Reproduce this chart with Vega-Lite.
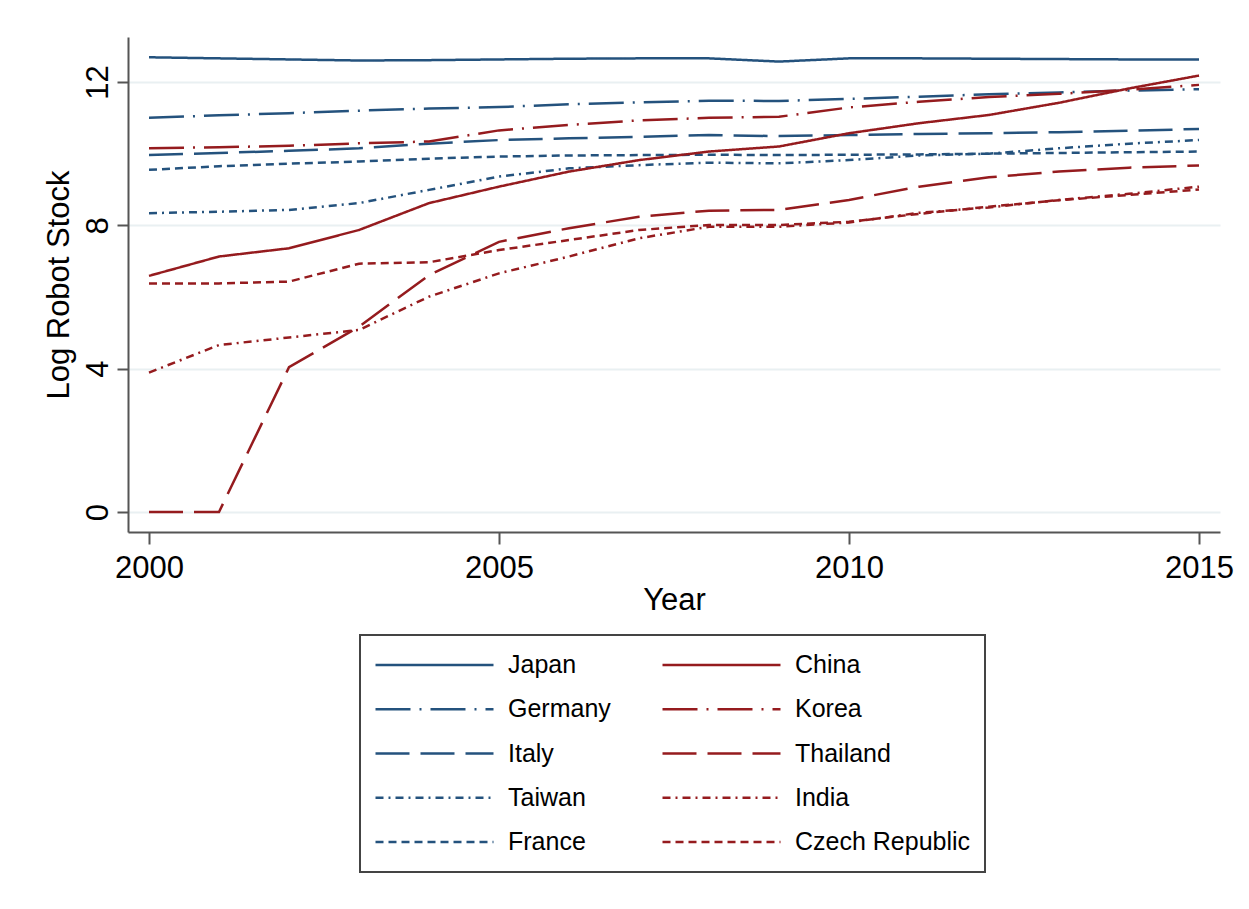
{
  "$schema": "https://vega.github.io/schema/vega-lite/v6.json",
  "autosize": "none",
  "width": 1092,
  "height": 495,
  "padding": {"left": 128, "top": 37, "right": 29, "bottom": 377},
  "background": "white",
  "config": {
    "view": {"stroke": null},
    "font": "Liberation Sans"
  },
  "data": {
    "values": [
      {"country": "Japan", "year": 2000, "stock": 12.69}, {"country": "Japan", "year": 2001, "stock": 12.66}, {"country": "Japan", "year": 2002, "stock": 12.63}, {"country": "Japan", "year": 2003, "stock": 12.60},
      {"country": "Japan", "year": 2004, "stock": 12.61}, {"country": "Japan", "year": 2005, "stock": 12.63}, {"country": "Japan", "year": 2006, "stock": 12.65}, {"country": "Japan", "year": 2007, "stock": 12.66},
      {"country": "Japan", "year": 2008, "stock": 12.66}, {"country": "Japan", "year": 2009, "stock": 12.57}, {"country": "Japan", "year": 2010, "stock": 12.66}, {"country": "Japan", "year": 2011, "stock": 12.66},
      {"country": "Japan", "year": 2012, "stock": 12.65}, {"country": "Japan", "year": 2013, "stock": 12.64}, {"country": "Japan", "year": 2014, "stock": 12.63}, {"country": "Japan", "year": 2015, "stock": 12.63},

      {"country": "Germany", "year": 2000, "stock": 11.00}, {"country": "Germany", "year": 2001, "stock": 11.07}, {"country": "Germany", "year": 2002, "stock": 11.13}, {"country": "Germany", "year": 2003, "stock": 11.20},
      {"country": "Germany", "year": 2004, "stock": 11.26}, {"country": "Germany", "year": 2005, "stock": 11.30}, {"country": "Germany", "year": 2006, "stock": 11.38}, {"country": "Germany", "year": 2007, "stock": 11.43},
      {"country": "Germany", "year": 2008, "stock": 11.48}, {"country": "Germany", "year": 2009, "stock": 11.47}, {"country": "Germany", "year": 2010, "stock": 11.53}, {"country": "Germany", "year": 2011, "stock": 11.59},
      {"country": "Germany", "year": 2012, "stock": 11.66}, {"country": "Germany", "year": 2013, "stock": 11.71}, {"country": "Germany", "year": 2014, "stock": 11.76}, {"country": "Germany", "year": 2015, "stock": 11.80},

      {"country": "Italy", "year": 2000, "stock": 9.96}, {"country": "Italy", "year": 2001, "stock": 10.02}, {"country": "Italy", "year": 2002, "stock": 10.08}, {"country": "Italy", "year": 2003, "stock": 10.15},
      {"country": "Italy", "year": 2004, "stock": 10.28}, {"country": "Italy", "year": 2005, "stock": 10.38}, {"country": "Italy", "year": 2006, "stock": 10.43}, {"country": "Italy", "year": 2007, "stock": 10.47},
      {"country": "Italy", "year": 2008, "stock": 10.52}, {"country": "Italy", "year": 2009, "stock": 10.49}, {"country": "Italy", "year": 2010, "stock": 10.52}, {"country": "Italy", "year": 2011, "stock": 10.55},
      {"country": "Italy", "year": 2012, "stock": 10.57}, {"country": "Italy", "year": 2013, "stock": 10.60}, {"country": "Italy", "year": 2014, "stock": 10.64}, {"country": "Italy", "year": 2015, "stock": 10.69},

      {"country": "Taiwan", "year": 2000, "stock": 8.34}, {"country": "Taiwan", "year": 2001, "stock": 8.38}, {"country": "Taiwan", "year": 2002, "stock": 8.43}, {"country": "Taiwan", "year": 2003, "stock": 8.62},
      {"country": "Taiwan", "year": 2004, "stock": 8.99}, {"country": "Taiwan", "year": 2005, "stock": 9.36}, {"country": "Taiwan", "year": 2006, "stock": 9.59}, {"country": "Taiwan", "year": 2007, "stock": 9.68},
      {"country": "Taiwan", "year": 2008, "stock": 9.75}, {"country": "Taiwan", "year": 2009, "stock": 9.73}, {"country": "Taiwan", "year": 2010, "stock": 9.82}, {"country": "Taiwan", "year": 2011, "stock": 9.95},
      {"country": "Taiwan", "year": 2012, "stock": 10.00}, {"country": "Taiwan", "year": 2013, "stock": 10.15}, {"country": "Taiwan", "year": 2014, "stock": 10.28}, {"country": "Taiwan", "year": 2015, "stock": 10.38},

      {"country": "France", "year": 2000, "stock": 9.55}, {"country": "France", "year": 2001, "stock": 9.65}, {"country": "France", "year": 2002, "stock": 9.72}, {"country": "France", "year": 2003, "stock": 9.78},
      {"country": "France", "year": 2004, "stock": 9.86}, {"country": "France", "year": 2005, "stock": 9.92}, {"country": "France", "year": 2006, "stock": 9.95}, {"country": "France", "year": 2007, "stock": 9.96},
      {"country": "France", "year": 2008, "stock": 9.97}, {"country": "France", "year": 2009, "stock": 9.96}, {"country": "France", "year": 2010, "stock": 9.97}, {"country": "France", "year": 2011, "stock": 9.98},
      {"country": "France", "year": 2012, "stock": 10.00}, {"country": "France", "year": 2013, "stock": 10.02}, {"country": "France", "year": 2014, "stock": 10.04}, {"country": "France", "year": 2015, "stock": 10.06},

      {"country": "China", "year": 2000, "stock": 6.59}, {"country": "China", "year": 2001, "stock": 7.13}, {"country": "China", "year": 2002, "stock": 7.36}, {"country": "China", "year": 2003, "stock": 7.87},
      {"country": "China", "year": 2004, "stock": 8.62}, {"country": "China", "year": 2005, "stock": 9.08}, {"country": "China", "year": 2006, "stock": 9.50}, {"country": "China", "year": 2007, "stock": 9.82},
      {"country": "China", "year": 2008, "stock": 10.06}, {"country": "China", "year": 2009, "stock": 10.20}, {"country": "China", "year": 2010, "stock": 10.57}, {"country": "China", "year": 2011, "stock": 10.85},
      {"country": "China", "year": 2012, "stock": 11.08}, {"country": "China", "year": 2013, "stock": 11.42}, {"country": "China", "year": 2014, "stock": 11.82}, {"country": "China", "year": 2015, "stock": 12.18},

      {"country": "Korea", "year": 2000, "stock": 10.15}, {"country": "Korea", "year": 2001, "stock": 10.18}, {"country": "Korea", "year": 2002, "stock": 10.22}, {"country": "Korea", "year": 2003, "stock": 10.29},
      {"country": "Korea", "year": 2004, "stock": 10.34}, {"country": "Korea", "year": 2005, "stock": 10.65}, {"country": "Korea", "year": 2006, "stock": 10.80}, {"country": "Korea", "year": 2007, "stock": 10.93},
      {"country": "Korea", "year": 2008, "stock": 11.00}, {"country": "Korea", "year": 2009, "stock": 11.03}, {"country": "Korea", "year": 2010, "stock": 11.29}, {"country": "Korea", "year": 2011, "stock": 11.45},
      {"country": "Korea", "year": 2012, "stock": 11.58}, {"country": "Korea", "year": 2013, "stock": 11.67}, {"country": "Korea", "year": 2014, "stock": 11.78}, {"country": "Korea", "year": 2015, "stock": 11.92},

      {"country": "Thailand", "year": 2000, "stock": 0.0}, {"country": "Thailand", "year": 2001, "stock": 0.0}, {"country": "Thailand", "year": 2002, "stock": 4.04}, {"country": "Thailand", "year": 2003, "stock": 5.17},
      {"country": "Thailand", "year": 2004, "stock": 6.61}, {"country": "Thailand", "year": 2005, "stock": 7.54}, {"country": "Thailand", "year": 2006, "stock": 7.92}, {"country": "Thailand", "year": 2007, "stock": 8.24},
      {"country": "Thailand", "year": 2008, "stock": 8.41}, {"country": "Thailand", "year": 2009, "stock": 8.43}, {"country": "Thailand", "year": 2010, "stock": 8.71}, {"country": "Thailand", "year": 2011, "stock": 9.08},
      {"country": "Thailand", "year": 2012, "stock": 9.34}, {"country": "Thailand", "year": 2013, "stock": 9.50}, {"country": "Thailand", "year": 2014, "stock": 9.61}, {"country": "Thailand", "year": 2015, "stock": 9.67},

      {"country": "India", "year": 2000, "stock": 3.89}, {"country": "India", "year": 2001, "stock": 4.66}, {"country": "India", "year": 2002, "stock": 4.87}, {"country": "India", "year": 2003, "stock": 5.08},
      {"country": "India", "year": 2004, "stock": 6.01}, {"country": "India", "year": 2005, "stock": 6.66}, {"country": "India", "year": 2006, "stock": 7.13}, {"country": "India", "year": 2007, "stock": 7.64},
      {"country": "India", "year": 2008, "stock": 7.96}, {"country": "India", "year": 2009, "stock": 7.96}, {"country": "India", "year": 2010, "stock": 8.08}, {"country": "India", "year": 2011, "stock": 8.35},
      {"country": "India", "year": 2012, "stock": 8.50}, {"country": "India", "year": 2013, "stock": 8.71}, {"country": "India", "year": 2014, "stock": 8.88}, {"country": "India", "year": 2015, "stock": 9.08},

      {"country": "Czech Republic", "year": 2000, "stock": 6.38}, {"country": "Czech Republic", "year": 2001, "stock": 6.38}, {"country": "Czech Republic", "year": 2002, "stock": 6.43}, {"country": "Czech Republic", "year": 2003, "stock": 6.93},
      {"country": "Czech Republic", "year": 2004, "stock": 6.97}, {"country": "Czech Republic", "year": 2005, "stock": 7.31}, {"country": "Czech Republic", "year": 2006, "stock": 7.59}, {"country": "Czech Republic", "year": 2007, "stock": 7.87},
      {"country": "Czech Republic", "year": 2008, "stock": 8.01}, {"country": "Czech Republic", "year": 2009, "stock": 8.01}, {"country": "Czech Republic", "year": 2010, "stock": 8.10}, {"country": "Czech Republic", "year": 2011, "stock": 8.32},
      {"country": "Czech Republic", "year": 2012, "stock": 8.52}, {"country": "Czech Republic", "year": 2013, "stock": 8.70}, {"country": "Czech Republic", "year": 2014, "stock": 8.85}, {"country": "Czech Republic", "year": 2015, "stock": 9.00}
    ]
  },
  "mark": {"type": "line", "strokeWidth": 2.5, "strokeCap": "butt", "clip": true},
  "encoding": {
    "x": {
      "field": "year",
      "type": "quantitative",
      "scale": {"domain": [1999.7, 2015.3], "nice": false, "zero": false},
      "axis": {
        "title": "Year",
        "values": [2000, 2005, 2010, 2015],
        "format": "d",
        "grid": false,
        "labelFont": "Liberation Sans",
        "labelFontSize": 31,
        "labelColor": "black",
        "labelPadding": 9,
        "labelFlush": false,
        "labelOverlap": false,
        "titleFont": "Liberation Sans",
        "titleFontSize": 31,
        "titleFontWeight": "normal",
        "titleColor": "black",
        "titlePadding": 2,
        "tickSize": 12,
        "tickWidth": 2,
        "tickColor": "#555555",
        "domainColor": "#555555",
        "domainWidth": 2
      }
    },
    "y": {
      "field": "stock",
      "type": "quantitative",
      "scale": {"domain": [-0.558, 13.256], "nice": false, "zero": false},
      "axis": {
        "title": "Log Robot Stock",
        "values": [0, 4, 8, 12],
        "format": "d",
        "grid": true,
        "gridColor": "#e9f0f2",
        "gridWidth": 2,
        "labelAngle": 270,
        "labelAlign": "center",
        "labelBaseline": "alphabetic",
        "labelFont": "Liberation Sans",
        "labelFontSize": 31,
        "labelColor": "black",
        "labelPadding": 10,
        "labelOverlap": false,
        "titleFont": "Liberation Sans",
        "titleFontSize": 31,
        "titleFontWeight": "normal",
        "titleColor": "black",
        "titlePadding": 7,
        "tickSize": 11,
        "tickWidth": 2,
        "tickColor": "#555555",
        "domainColor": "#555555",
        "domainWidth": 2
      }
    },
    "color": {
      "field": "country",
      "type": "nominal",
      "scale": {
        "domain": ["Japan", "Germany", "Italy", "Taiwan", "France", "China", "Korea", "Thailand", "India", "Czech Republic"],
        "range": ["#24527d", "#24527d", "#24527d", "#24527d", "#24527d", "#951b1e", "#951b1e", "#951b1e", "#951b1e", "#951b1e"]
      },
      "legend": {
        "title": null,
        "orient": "none",
        "legendX": 232,
        "legendY": 598,
        "columns": 2,
        "symbolType": "stroke",
        "symbolSize": 13924,
        "symbolStrokeWidth": 2.5,
        "labelFont": "Liberation Sans",
        "labelFontSize": 25,
        "labelColor": "black",
        "labelOffset": 13,
        "labelLimit": 400,
        "columnPadding": 50,
        "rowPadding": 12.25,
        "clipHeight": 32,
        "padding": 14,
        "strokeColor": "#444444",
        "encode": {"legend": {"update": {"strokeWidth": {"value": 2}}}}
      }
    },
    "strokeDash": {
      "field": "country",
      "type": "nominal",
      "scale": {
        "domain": ["Japan", "Germany", "Italy", "Taiwan", "France", "China", "Korea", "Thailand", "India", "Czech Republic"],
        "range": [[1, 0], [35, 9, 2, 9], [34, 11], [8, 5, 2, 5], [8, 5], [1, 0], [35, 9, 2, 9], [34, 11], [8, 5, 2, 5], [8, 5]]
      },
      "legend": {
        "title": null,
        "orient": "none",
        "legendX": 232,
        "legendY": 598,
        "columns": 2,
        "symbolType": "stroke",
        "symbolSize": 13924,
        "symbolStrokeWidth": 2.5,
        "labelFont": "Liberation Sans",
        "labelFontSize": 25,
        "labelColor": "black",
        "labelOffset": 13,
        "labelLimit": 400,
        "columnPadding": 50,
        "rowPadding": 12.25,
        "clipHeight": 32,
        "padding": 14,
        "strokeColor": "#444444"
      }
    }
  }
}
